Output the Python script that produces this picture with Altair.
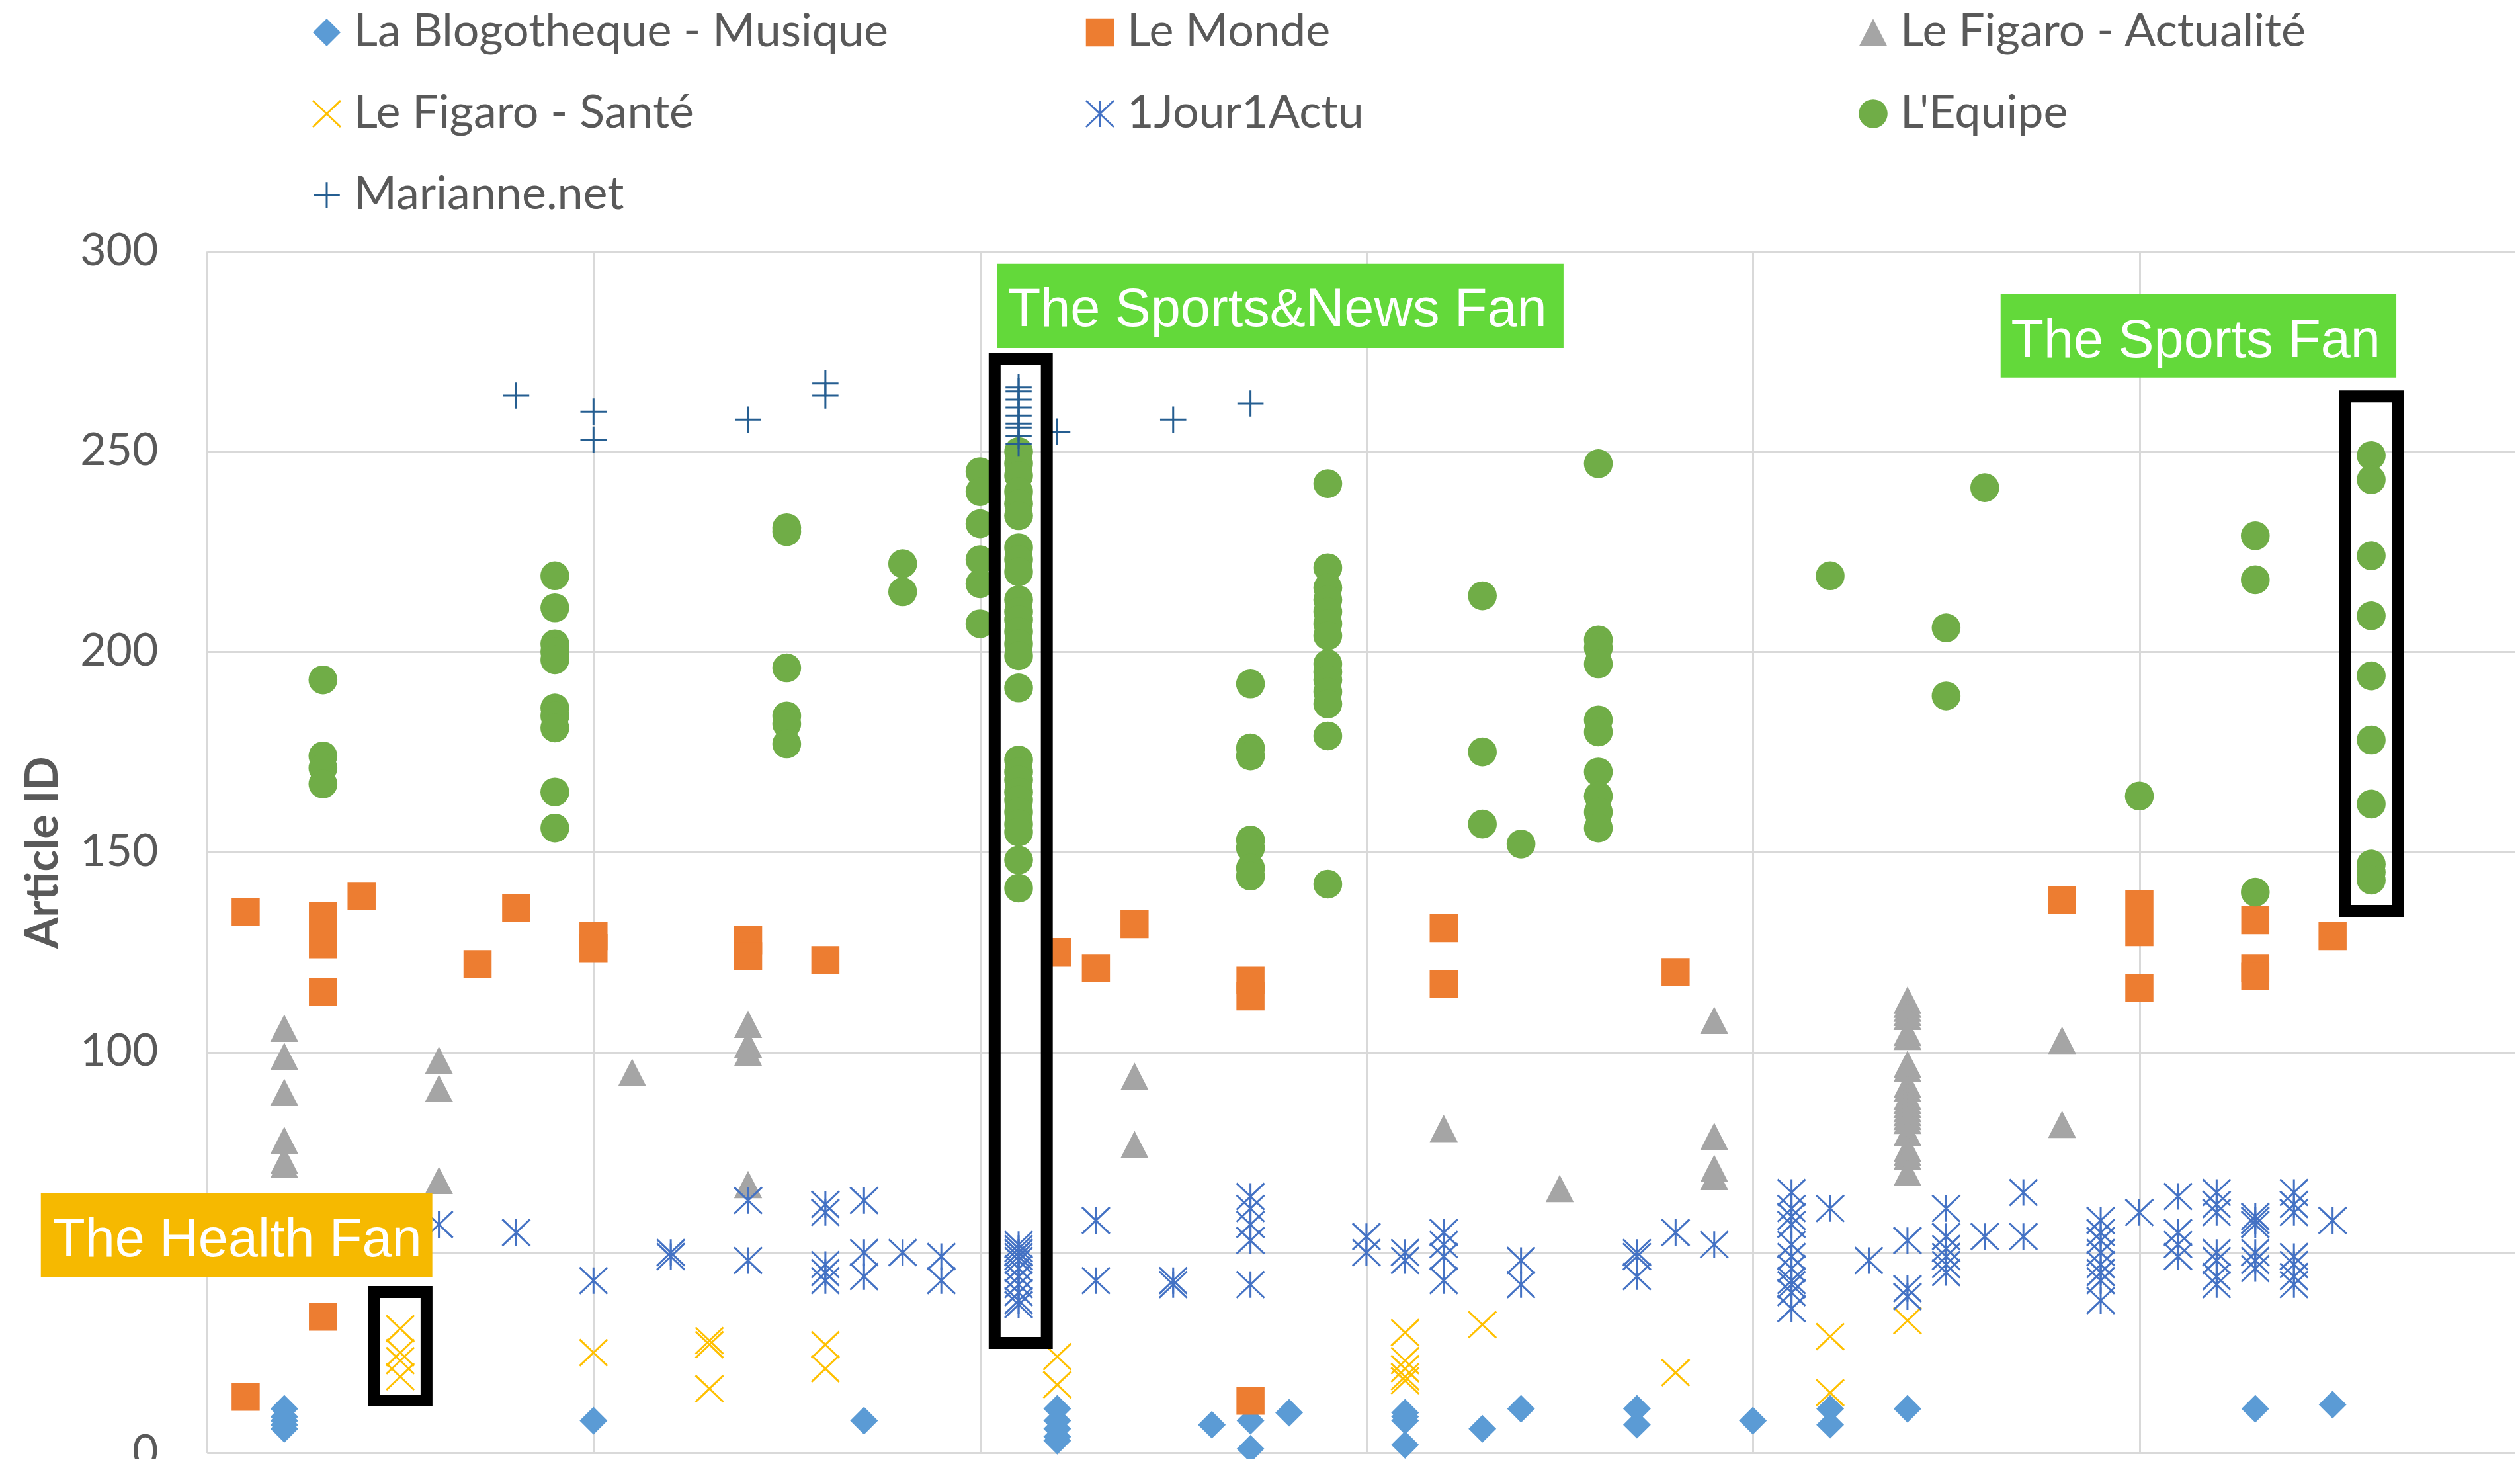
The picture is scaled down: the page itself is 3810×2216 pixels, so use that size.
import altair as alt
import pandas as pd

SITES = ["La Blogotheque - Musique", "Le Monde", "Le Figaro - Actualité",
         "Le Figaro - Santé", "1Jour1Actu", "L'Equipe", "Marianne.net"]

# user (x) -> list of article IDs (y)
BLOGOTHEQUE = {2: [11, 9, 8, 7, 6], 10: [8], 17: [8], 22: [11, 8, 6, 4, 3], 26: [7],
               27: [8, 1], 28: [10], 31: [10, 9, 8, 2], 33: [6], 34: [11], 37: [11, 7],
               40: [8], 42: [11, 7], 44: [11], 53: [11], 55: [12]}
LE_MONDE = {1: [135, 14], 3: [134, 127, 115, 34], 4: [139], 7: [122], 8: [136],
            10: [129, 126], 14: [128, 124], 16: [123], 22: [125], 23: [121], 24: [132],
            27: [118, 114, 13], 32: [131, 117], 38: [120], 48: [138], 50: [137, 130, 116],
            53: [133, 121, 119], 55: [129]}
FIGARO_ACTU = {2: [106, 99, 90, 78, 73, 72], 6: [98, 91, 68], 11: [95], 14: [107, 102, 100, 67],
               24: [94, 77], 32: [81], 35: [66], 39: [108, 79, 71, 69],
               44: [113, 112, 111, 110, 109, 105, 104, 97, 96, 92, 91, 89, 88, 87, 86, 85, 84,
                    83, 80, 76, 75, 74, 70],
               48: [103, 82]}
FIGARO_SANTE = {5: [31, 25, 23, 19], 10: [25], 13: [28, 27, 16], 16: [27, 21], 22: [24, 17],
                31: [30, 23, 21, 19, 18], 33: [32], 38: [20], 42: [29, 15], 44: [33]}
JOUR1ACTU = {6: [57], 8: [55], 10: [43], 12: [50, 49], 14: [63, 48], 16: [62, 60, 47, 45, 43],
             17: [63, 50, 44], 18: [50], 19: [49, 43],
             21: [52, 51, 50, 50, 49, 48, 46, 44, 42, 40, 38, 37],
             23: [58, 43], 25: [43, 42], 27: [64, 61, 57, 53, 42], 30: [54, 50], 31: [50, 48],
             32: [55, 52, 49, 43], 34: [48, 42], 37: [50, 49, 44], 38: [55], 39: [52],
             41: [65, 61, 59, 57, 52, 49, 46, 43, 42, 40, 36], 42: [61], 43: [48],
             44: [53, 41, 39], 45: [61, 54, 51, 49, 47, 45], 46: [54], 47: [65, 54],
             49: [58, 55, 53, 50, 47, 45, 43, 38], 50: [60], 51: [64, 55, 52, 49],
             52: [65, 62, 60, 50, 48, 44, 42], 53: [59, 58, 57, 50, 48, 46],
             54: [65, 62, 60, 49, 47, 44, 42], 55: [58]}
EQUIPE = {3: [193, 174, 171, 167], 9: [219, 211, 202, 200, 198, 186, 184, 181, 165, 156],
          15: [231, 230, 196, 184, 182, 177], 18: [222, 215], 20: [245, 240, 232, 223, 217, 207],
          21: [250, 247, 244, 240, 237, 234, 226, 223, 220, 213, 210, 208, 205, 202, 199, 191,
               173, 170, 168, 165, 163, 160, 157, 155, 148, 141],
          27: [192, 176, 174, 153, 151, 146, 144],
          29: [242, 221, 216, 213, 210, 207, 204, 197, 195, 193, 190, 187, 179, 142],
          33: [214, 175, 157], 34: [152], 36: [247, 203, 201, 197, 183, 180, 170, 164, 160, 156],
          42: [219], 45: [206, 189], 46: [241], 50: [164], 53: [229, 218, 140],
          56: [249, 243, 224, 209, 194, 178, 162, 147, 145, 143]}
MARIANNE = {8: [264], 10: [260, 253], 14: [258], 16: [267, 264],
            21: [266, 265, 263, 261, 259, 257, 256, 254, 252], 22: [255], 25: [258], 27: [262]}

SERIES = [BLOGOTHEQUE, LE_MONDE, FIGARO_ACTU, FIGARO_SANTE, JOUR1ACTU, EQUIPE, MARIANNE]

FILLS = ["#5B9BD5", "#ED7D31", "#A5A5A5", "transparent", "transparent", "#70AD47", "transparent"]
STROKES = ["transparent", "transparent", "transparent", "#FFC000", "#4472C4", "transparent", "#255E91"]
SHAPES = [
    "M0,-0.963L0.963,0L0,0.963L-0.963,0Z",
    "M-0.975,-0.975L0.975,-0.975L0.975,0.975L-0.975,0.975Z",
    "M0,-0.952L0.975,0.952L-0.975,0.952Z",
    "M-0.963,-0.917L0.963,0.917M-0.963,0.917L0.963,-0.917",
    "M-0.963,-0.917L0.963,0.917M-0.963,0.917L0.963,-0.917M0,-0.917L0,0.917",
    "circle",
    "M-0.908,0L0.908,0M0,-0.908L0,0.908",
]

# annotations (data units)
LABELS = ["The Health Fan", "The Sports&News Fan", "The Sports Fan"]
LABEL_COLORS = ["#F6B900", "#63D93A", "#63D93A"]
LABEL_X = [-4.30, 20.45, 46.41]
LABEL_X2 = [5.83, 35.10, 56.65]
LABEL_Y = [64.8, 296.9, 289.3]
LABEL_Y2 = [43.8, 275.9, 268.5]
TEXT_X = [-4.0, 20.72, 46.68]
TEXT_Y = [49.1, 281.3, 273.6]
FRAME_X = [4.33, 20.38, 55.33]
FRAME_X2 = [5.68, 21.73, 56.69]
FRAME_Y = [40.15, 273.25, 263.8]
FRAME_Y2 = [13.05, 27.42, 135.3]

rows = []
for site, series in zip(SITES, SERIES):
    for x, ys in series.items():
        for y in ys:
            rows.append({"site": site, "x": x, "y": y})
df = pd.DataFrame(rows)

labels_df = pd.DataFrame({"label": LABELS, "color": LABEL_COLORS, "x": LABEL_X, "x2": LABEL_X2,
                          "y": LABEL_Y, "y2": LABEL_Y2, "tx": TEXT_X, "ty": TEXT_Y})
frames_df = pd.DataFrame({"x": FRAME_X, "x2": FRAME_X2, "y": FRAME_Y, "y2": FRAME_Y2})

W = 3489
H = 1816
XMAX = W / 58.43

xscale = alt.Scale(domain=[0, XMAX], nice=False, zero=False)
yscale = alt.Scale(domain=[0, 300], nice=False)

x_axis = alt.Axis(values=[0, 10, 20, 30, 40, 50], labels=False, ticks=False, title=None,
                  grid=True, gridColor="#D9D9D9", gridWidth=3,
                  domain=True, domainColor="#D9D9D9", domainWidth=3)
y_axis = alt.Axis(values=[0, 50, 100, 150, 200, 250, 300], grid=True, gridColor="#D9D9D9",
                  gridWidth=3, domain=True, domainColor="#D9D9D9", domainWidth=3,
                  ticks=False, tickSize=0, labelPadding=74, labelFont="Lato", labelFontSize=68,
                  labelColor="#595959", title="Article ID", titleFont="Lato", titleFontSize=68,
                  titleFontWeight="bold", titleColor="#595959", titlePadding=20)

legend = alt.Legend(title=None, direction="horizontal")

points = alt.Chart(df).mark_point(size=1900, strokeWidth=3, opacity=1).encode(
    x=alt.X("x:Q", scale=xscale, axis=x_axis),
    y=alt.Y("y:Q", scale=yscale, axis=y_axis),
    fill=alt.Fill("site:N", scale=alt.Scale(domain=SITES, range=FILLS), legend=legend),
    stroke=alt.Stroke("site:N", scale=alt.Scale(domain=SITES, range=STROKES), legend=legend),
    shape=alt.Shape("site:N", scale=alt.Scale(domain=SITES, range=SHAPES), legend=legend),
)

frames = alt.Chart(frames_df).mark_rect(fill="transparent", stroke="#000000", strokeWidth=18).encode(
    x="x:Q", x2="x2:Q", y="y:Q", y2="y2:Q")

boxes = alt.Chart(labels_df).mark_rect().encode(
    x="x:Q", x2="x2:Q", y="y:Q", y2="y2:Q", fill=alt.Fill("color:N", scale=None, legend=None))

texts = alt.Chart(labels_df).mark_text(align="left", baseline="alphabetic", font="Liberation Sans",
                                       fontSize=81, color="#FFFFFF").encode(
    x="tx:Q", y="ty:Q", text="label:N")

chart = alt.layer(points, frames, boxes, texts).properties(
    width=W, height=H,
    autosize=alt.AutoSizeParams(type="none"),
    padding={"left": 305, "top": 372, "right": 0, "bottom": 10},
    background="#FFFFFF",
).configure_view(stroke=None).configure_legend(
    orient="none", legendX=146, legendY=-366, columns=3, gridAlign="all",
    columnPadding=285, rowPadding=53, padding=0,
    labelFont="Lato", labelFontSize=70, labelColor="#595959", labelLimit=3000, labelOffset=6,
    symbolSize=1900, symbolStrokeWidth=3, symbolOpacity=1,
)

chart.save("out.html", embed_options={"renderer": "svg", "actions": False})
